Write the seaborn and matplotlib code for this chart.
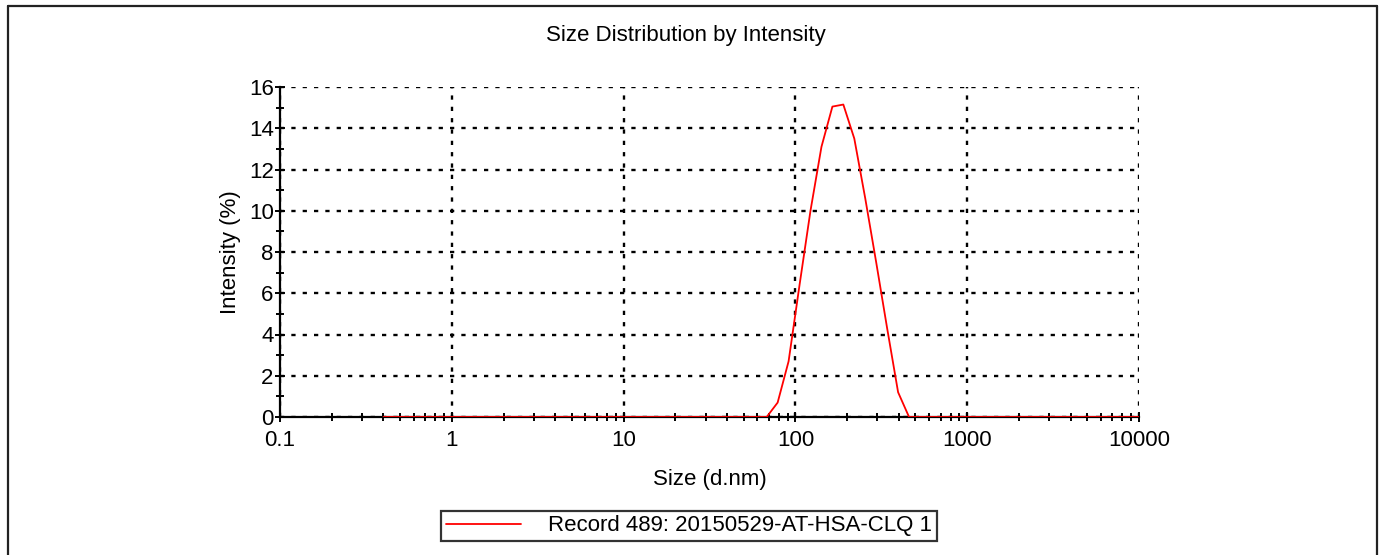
import matplotlib
matplotlib.use("Agg")
import matplotlib.pyplot as plt
import seaborn as sns
import pandas as pd
from matplotlib.lines import Line2D
from matplotlib.ticker import LogLocator, FixedLocator, NullFormatter

sizes_nm = [0.4, 0.4632, 0.5365, 0.6213, 0.7195, 0.8332, 0.9649, 1.117, 1.294, 1.499,
            1.736, 2.010, 2.328, 2.696, 3.122, 3.615, 4.187, 4.849, 5.615, 6.503,
            7.531, 8.721, 10.10, 11.70, 13.54, 15.69, 18.17, 21.04, 24.36, 28.21,
            32.67, 37.84, 43.82, 50.75, 58.77, 68.06, 78.82, 91.28, 105.7, 122.4,
            141.8, 164.2, 190.1, 220.2, 255.0, 295.3, 342.0, 396.1, 458.7, 531.2,
            615.1, 712.4, 825.0, 955.4, 1106, 1281, 1484, 1718, 1990, 2305,
            2669, 3091, 3580, 4145, 4801, 5560, 6439, 7456, 8635, 10000]
intensity_pct = [0, 0, 0, 0, 0, 0, 0, 0, 0, 0,
                 0, 0, 0, 0, 0, 0, 0, 0, 0, 0,
                 0, 0, 0, 0, 0, 0, 0, 0, 0, 0,
                 0, 0, 0, 0, 0, 0, 0.7, 2.7, 6.4, 10.0,
                 13.1, 15.05, 15.15, 13.5, 10.6, 7.5, 4.3, 1.2, 0, 0,
                 0, 0, 0, 0, 0, 0, 0, 0, 0, 0,
                 0, 0, 0, 0, 0, 0, 0, 0, 0, 0]
series_label = "Record 489: 20150529-AT-HSA-CLQ 1"
x_ticks = [0.1, 1, 10, 100, 1000, 10000]
x_ticklabels = ["0.1", "1", "10", "100", "1000", "10000"]
y_ticks = [0, 2, 4, 6, 8, 10, 12, 14, 16]

sns.set_style("white")
plt.rcParams['font.family'] = ['Liberation Sans', 'DejaVu Sans']
plt.rcParams['text.color'] = 'black'
plt.rcParams['axes.labelcolor'] = 'black'
FS = 16

df = pd.DataFrame({"size": sizes_nm, "intensity": intensity_pct})

fig = plt.figure(figsize=(13.82, 5.55), dpi=100)
ax = fig.add_axes([280/1382, 1-417/555, (1139-280)/1382, (417-87)/555])

sns.lineplot(data=df, x="size", y="intensity", ax=ax, color="#ff0000",
             linewidth=1.3, label=series_label, legend=False, zorder=4)

ax.set_xscale("log")
ax.set_xlim(0.1, 10000)
ax.set_ylim(0, 16)
ax.set_xticks(x_ticks)
ax.set_xticklabels(x_ticklabels)
ax.xaxis.set_minor_locator(LogLocator(base=10, subs=range(2, 10), numticks=100))
ax.xaxis.set_minor_formatter(NullFormatter())
ax.set_yticks(y_ticks)
ax.yaxis.set_minor_locator(FixedLocator([1, 3, 5, 7, 9, 11, 13, 15]))

ax.grid(True, which="major", color="black", linestyle=(0, (1.8, 3)), linewidth=1.7)
ax.set_axisbelow(True)

for s in ["top", "right"]:
    ax.spines[s].set_visible(False)
for s in ["left", "bottom"]:
    ax.spines[s].set_color("black")
    ax.spines[s].set_linewidth(1.6)
    ax.spines[s].set_zorder(3)

ax.tick_params(axis="both", which="both", bottom=True, left=True, top=False, right=False)
ax.tick_params(axis="both", which="major", direction="inout", length=7, width=1.4,
               color="black", labelsize=FS, labelcolor="black")
ax.tick_params(axis="both", which="minor", direction="inout", length=6, width=1.4,
               color="black")
ax.tick_params(axis="x", which="major", pad=6)
ax.tick_params(axis="y", which="major", pad=1)

ax.set_xlabel("Size (d.nm)", fontsize=FS, labelpad=13, color="black")
ax.set_ylabel("Intensity (%)", fontsize=FS, labelpad=6, color="black")
ax.set_title("Size Distribution by Intensity", fontsize=FS, pad=33, color="black",
             x=(686 - 280) / (1139 - 280))

handle = Line2D([], [], color="#ff0000", linewidth=1.3)
leg = fig.legend([handle], [series_label], loc="center",
                 bbox_to_anchor=(689/1382, 1-526/555), fontsize=FS,
                 frameon=True, fancybox=False, handlelength=3.4,
                 handletextpad=1.2, borderpad=0.2, borderaxespad=0)
leg.get_frame().set_edgecolor("black")
leg.get_frame().set_linewidth(1.6)
for t in leg.get_texts():
    t.set_color("black")

# outer frame
x0, x1, y0 = 8/1382, 1377/1382, 1-6/555
for xs, ys in [([x0, x0], [-0.1, y0]), ([x0, x1], [y0, y0]), ([x1, x1], [-0.1, y0])]:
    fig.add_artist(Line2D(xs, ys, transform=fig.transFigure, color="#222222", linewidth=1.6))

fig.savefig("out.png", dpi=100, facecolor="white")
